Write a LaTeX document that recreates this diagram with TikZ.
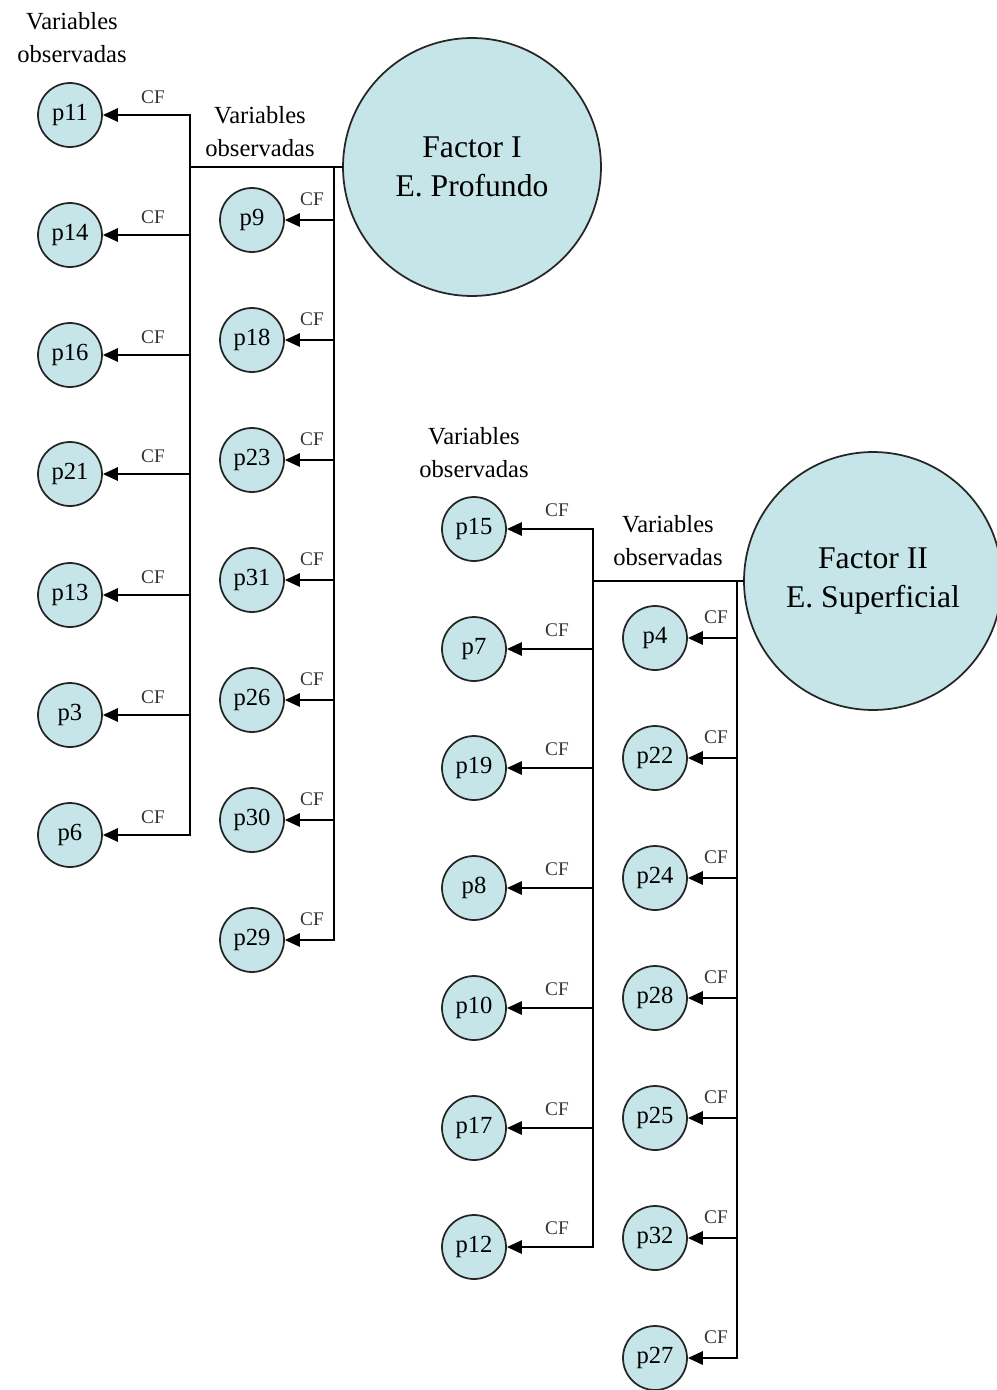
\documentclass[tikz,border=0pt]{standalone}
\usepackage{fontspec}
\setmainfont{Liberation Serif}
\usetikzlibrary{arrows.meta}
\definecolor{cfill}{HTML}{C6E5E8}
\begin{document}
\begin{tikzpicture}[x=0.02cm,y=-0.02cm,
  var/.style={circle,draw=black!85,line width=1pt,fill=cfill,minimum size=1.28cm,inner sep=0pt,font=\fontsize{14}{15}\selectfont},
  fac/.style={circle,draw=black!85,line width=1pt,fill=cfill,minimum size=5.16cm,inner sep=0pt,align=center,font=\fontsize{18}{22}\selectfont},
  conn/.style={line width=1.3pt,line cap=rect},
  arr/.style={line width=1.3pt,-{Triangle[length=8.5pt,width=7.5pt]}},
  cf/.style={font=\fontsize{11}{12}\selectfont,text=black!80,inner sep=0pt},
  lbl/.style={align=center,inner sep=0pt,font=\fontsize{14}{18.7}\selectfont}]
\useasboundingbox (0,0) rectangle (997,1390);

% ---------------- Group I ----------------
\node[fac] (f1) at (472,167) {Factor I\\E. Profundo};
\node[lbl] (v1a) at (72,38) {Variables\\observadas};
\node[lbl] (v1b) at (260,132) {Variables\\observadas};

\foreach \n/\y in {p11/115,p14/235,p16/355,p21/474,p13/595,p3/715,p6/835}{
  \node[var] (\n) at (70,\y) {\n};
  \coordinate (a\n) at (190,\y);
  \draw[arr] (a\n) -- (\n);
  \node[cf] (cf\n) at (153,\y-18) {CF};
}
\foreach \n/\y in {p9/220,p18/340,p23/460,p31/580,p26/700,p30/820,p29/940}{
  \node[var] (\n) at (252,\y) {\n};
  \coordinate (a\n) at (334,\y);
  \draw[arr] (a\n) -- (\n);
  \node[cf] (cf\n) at (312,\y-21) {CF};
}
\coordinate (j1L) at (190,167);
\coordinate (j1R) at (334,167);
\draw[conn] (ap11) -- (ap6);
\draw[conn] (j1R) -- (ap29);
\draw[conn] (j1L) -- (f1.west);

% ---------------- Group II ----------------
\node[fac] (f2) at (873,581) {Factor II\\E. Superficial};
\node[lbl] (v2a) at (474,453) {Variables\\observadas};
\node[lbl] (v2b) at (668,541) {Variables\\observadas};

\foreach \n/\y in {p15/529,p7/649,p19/768,p8/888,p10/1008,p17/1128,p12/1247}{
  \node[var] (\n) at (474,\y) {\n};
  \coordinate (a\n) at (593,\y);
  \draw[arr] (a\n) -- (\n);
  \node[cf] (cf\n) at (557,\y-19) {CF};
}
\foreach \n/\y in {p4/638,p22/758,p24/878,p28/998,p25/1118,p32/1238,p27/1358}{
  \node[var] (\n) at (655,\y) {\n};
  \coordinate (a\n) at (737,\y);
  \draw[arr] (a\n) -- (\n);
  \node[cf] (cf\n) at (716,\y-21) {CF};
}
\coordinate (j2L) at (593,581);
\coordinate (j2R) at (737,581);
\draw[conn] (ap15) -- (ap12);
\draw[conn] (j2R) -- (ap27);
\draw[conn] (j2L) -- (f2.west);
\end{tikzpicture}
\end{document}
